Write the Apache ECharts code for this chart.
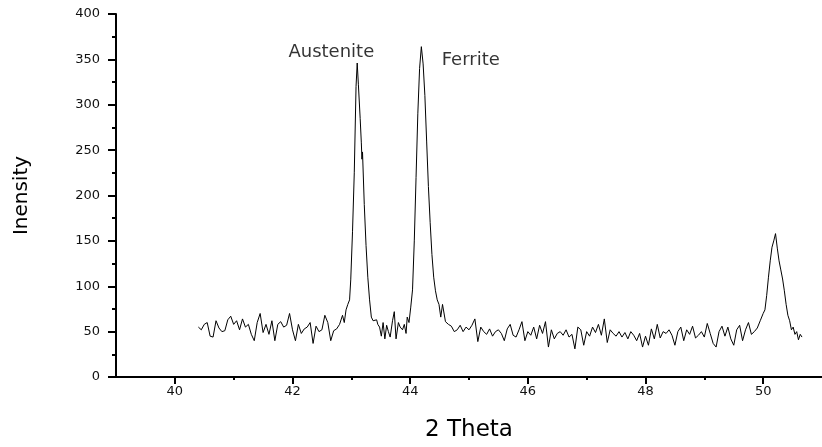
<!DOCTYPE html>
<html>
<head>
<meta charset="utf-8">
<script src="https://cdn.jsdelivr.net/npm/echarts@6/dist/echarts.min.js"></script>
<style>html,body{margin:0;padding:0;background:#fff}#c{width:822px;height:447px}</style>
</head>
<body>
<div id="c"></div>
<script>
// [2theta, intensity]
var baselineLow = [[40.40,55],[40.45,52],[40.50,58],[40.55,60],[40.60,45],[40.65,44],[40.70,62],[40.75,54],[40.80,50],[40.85,51],[40.90,63],[40.95,67],[41.00,58],[41.05,62],[41.10,52],[41.15,64],[41.20,55],[41.25,58],[41.30,47],[41.35,40],[41.40,60],[41.45,70],[41.50,49],[41.55,58],[41.60,47],[41.65,62],[41.70,40],[41.75,58],[41.80,61],[41.85,55],[41.90,57],[41.95,70],[42.00,52],[42.05,40],[42.10,58],[42.15,48],[42.20,53],[42.25,55],[42.30,60],[42.35,37],[42.40,56],[42.45,50],[42.50,52],[42.55,68],[42.60,60],[42.65,40],[42.70,51],[42.75,53],[42.80,58],[42.85,68],[42.88,60]];
var austenitePeak = [[42.91,74],[42.94,80],[42.97,85],[42.99,107],[43.02,160],[43.05,225],[43.08,320],[43.10,346],[43.12,322],[43.15,285],[43.17,258],[43.18,240],[43.19,248],[43.22,190],[43.25,145],[43.28,110],[43.31,85],[43.34,66],[43.37,62],[43.40,60],[43.43,63]];
var betweenPeaks = [[43.45,58],[43.48,55],[43.51,45],[43.54,60],[43.57,42],[43.60,57],[43.63,50],[43.66,44],[43.70,62],[43.73,72],[43.76,42],[43.80,60],[43.83,55],[43.87,52],[43.90,58],[43.93,48],[43.95,66],[43.98,60],[44.01,77]];
var ferritePeak = [[44.04,96],[44.07,150],[44.10,220],[44.13,290],[44.16,340],[44.19,364],[44.22,345],[44.25,310],[44.28,260],[44.31,210],[44.34,170],[44.37,135],[44.40,110],[44.43,95],[44.46,85],[44.49,80],[44.52,66],[44.55,80]];
var baselineMid = [[44.60,61],[44.65,58],[44.70,56],[44.75,50],[44.80,52],[44.85,57],[44.90,50],[44.95,55],[45.00,52],[45.05,57],[45.10,64],[45.15,39],[45.20,55],[45.25,50],[45.30,47],[45.35,53],[45.40,45],[45.45,50],[45.50,52],[45.55,48],[45.60,40],[45.65,53],[45.70,58],[45.75,46],[45.80,44],[45.85,52],[45.90,61],[45.95,40],[46.00,50],[46.05,46],[46.10,55],[46.15,42],[46.20,57],[46.25,48],[46.30,61],[46.35,33],[46.40,52],[46.45,42],[46.50,48],[46.55,50],[46.60,46],[46.65,52],[46.70,44],[46.75,47],[46.80,31],[46.85,55],[46.90,52],[46.95,35],[47.00,50],[47.05,45],[47.10,55],[47.15,49],[47.20,58],[47.25,46],[47.30,64],[47.35,38],[47.40,52],[47.45,48],[47.50,45],[47.55,50],[47.60,44],[47.65,49],[47.70,42],[47.75,50],[47.80,46],[47.85,40],[47.90,48],[47.95,33],[48.00,45],[48.05,35],[48.10,53],[48.15,42],[48.20,58],[48.25,43],[48.30,50],[48.35,48],[48.40,52],[48.45,46],[48.50,35]];
var baselineHigh = [[48.55,50],[48.60,55],[48.65,40],[48.70,52],[48.75,47],[48.80,56],[48.85,43],[48.90,46],[48.95,50],[49.00,44],[49.05,59],[49.10,48],[49.15,37],[49.20,33],[49.25,50],[49.30,56],[49.35,45],[49.40,55],[49.45,42],[49.50,35],[49.55,52],[49.60,57],[49.65,40],[49.70,52],[49.75,60],[49.80,47],[49.85,50],[49.90,54],[49.95,62],[50.00,70]];
var thirdPeak = [[50.03,74],[50.06,90],[50.09,110],[50.12,128],[50.15,143],[50.18,150],[50.21,158],[50.24,142],[50.27,128],[50.30,118],[50.33,108],[50.36,95],[50.39,80],[50.42,68],[50.45,62],[50.48,52],[50.51,55],[50.54,47],[50.57,50],[50.60,41],[50.63,47],[50.66,44]];

var xMajorTicks = [40,42,44,46,48,50];
var xMinorTicks = [41,43,45,47,49];
var annLabels = ['Austenite','Ferrite'];
var annX = [42.66,45.03];
var annY = [358,349];

var scan = [].concat(baselineLow, austenitePeak, betweenPeaks, ferritePeak, baselineMid, baselineHigh, thirdPeak);
var annData = annLabels.map(function(t,i){return {value:[annX[i],annY[i]], name:t};});

var chart = echarts.init(document.getElementById('c'), null, {renderer:'canvas'});
var tickFont = {fontFamily:'DejaVu Sans', fontSize:13, color:'#111'};
chart.setOption({
  animation:false,
  backgroundColor:'#fff',
  grid:{left:116, top:14, width:708, height:363},
  xAxis:[{
    type:'value', min:39, max:51,
    name:'2 Theta', nameLocation:'middle', nameGap:42,
    nameTextStyle:{fontFamily:'DejaVu Sans', fontSize:23, color:'#000'},
    axisLine:{show:true, lineStyle:{color:'#000', width:2}},
    axisTick:{show:true, length:7, lineStyle:{color:'#000', width:2}, customValues:xMajorTicks},
    axisLabel:Object.assign({margin:8, customValues:xMajorTicks}, tickFont),
    splitLine:{show:false}
  },{
    type:'value', min:39, max:51, position:'bottom',
    axisLine:{show:false},
    axisTick:{show:true, length:3, lineStyle:{color:'#000', width:2}, customValues:xMinorTicks},
    axisLabel:{show:false},
    splitLine:{show:false}
  }],
  yAxis:{
    type:'value', min:0, max:400, interval:50,
    name:'Inensity', nameLocation:'middle', nameGap:84,
    nameTextStyle:{fontFamily:'DejaVu Sans', fontSize:20, color:'#000'},
    axisLine:{show:true, lineStyle:{color:'#000', width:2}},
    axisTick:{show:true, length:8, lineStyle:{color:'#000', width:2}},
    minorTick:{show:true, splitNumber:2, length:4, lineStyle:{color:'#000', width:2}},
    axisLabel:Object.assign({margin:16}, tickFont),
    splitLine:{show:false}, minorSplitLine:{show:false}
  },
  series:[{
    type:'line', data:scan, xAxisIndex:0, showSymbol:false, symbol:'none',
    lineStyle:{color:'#000', width:1}, silent:true
  },{
    type:'scatter', data:annData, xAxisIndex:0, symbolSize:0, silent:true,
    label:{show:true, position:'inside', formatter:function(p){return p.name;},
      fontFamily:'DejaVu Sans', fontSize:18, color:'#000'}
  }]
});
</script>
</body>
</html>
